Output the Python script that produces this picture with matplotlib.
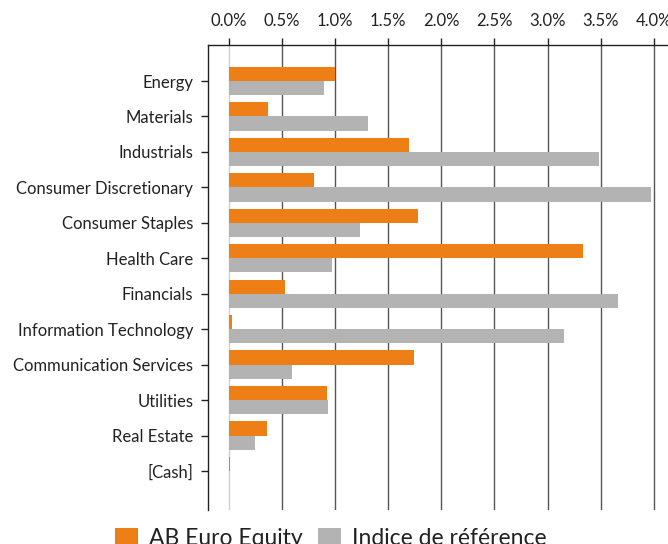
import matplotlib
matplotlib.use("Agg")
import matplotlib.pyplot as plt
from matplotlib.ticker import FuncFormatter

plt.rcParams['font.family'] = ['Lato', 'DejaVu Sans']

# sector weights (%)
sectors = ["Energy", "Materials", "Industrials", "Consumer Discretionary",
           "Consumer Staples", "Health Care", "Financials", "Information Technology",
           "Communication Services", "Utilities", "Real Estate", "[Cash]"]
fund = [1.00, 0.37, 1.70, 0.80, 1.78, 3.33, 0.53, 0.03, 1.74, 0.92, 0.36, 0.01]
bench = [0.90, 1.31, 3.48, 3.97, 1.23, 0.975, 3.66, 3.15, 0.59, 0.93, 0.25, 0.005]
series_names = ["AB Euro Equity", "Indice de référence"]
xticks = [0, 0.5, 1.0, 1.5, 2.0, 2.5, 3.0, 3.5, 4.0]

orange = "#EE7E16"
grey = "#B3B3B3"

fig = plt.figure(figsize=(6.68, 5.44), dpi=100)
ax = fig.add_axes([208/668, 1-510/544, 1-208/668, (510-45)/544])

pos = list(range(len(sectors)))
h = 0.4
ax.barh([p - h/2 for p in pos], fund, height=h, color=orange, label=series_names[0], zorder=3)
ax.barh([p + h/2 for p in pos], bench, height=h, color=grey, label=series_names[1], zorder=3)

for x in xticks:
	ax.axvline(x, color="#d0d0d0" if x == 0 else "#555555", lw=1, zorder=1)

ax.set_xlim(-0.196, 4.133)
ax.set_ylim(12.1, -1.016)
ax.set_yticks(pos)
ax.set_yticklabels(sectors)
ax.set_xticks(xticks)
ax.xaxis.set_major_formatter(FuncFormatter(lambda v, p: f"{v:.1f}%"))
ax.xaxis.tick_top()
ax.tick_params(axis="x", length=5, width=1, color="#222222", pad=6.5, labelsize=12, labelcolor="#222222")
ax.tick_params(axis="y", length=5, width=1, color="#222222", pad=5.5, labelsize=12, labelcolor="#222222")

for s in ["right", "bottom"]:
	ax.spines[s].set_visible(False)
for s in ["left", "top"]:
	ax.spines[s].set_color("#222222")
	ax.spines[s].set_linewidth(1)

fig.legend(loc="upper left", bbox_to_anchor=(115/668, 1-528/544), ncol=2, frameon=False,
	fontsize=16.5, handlelength=1.0, handleheight=0.9, handletextpad=0.5, columnspacing=0.65,
	labelcolor="#222222", borderaxespad=0, borderpad=0)

fig.savefig("out.png", dpi=100)
